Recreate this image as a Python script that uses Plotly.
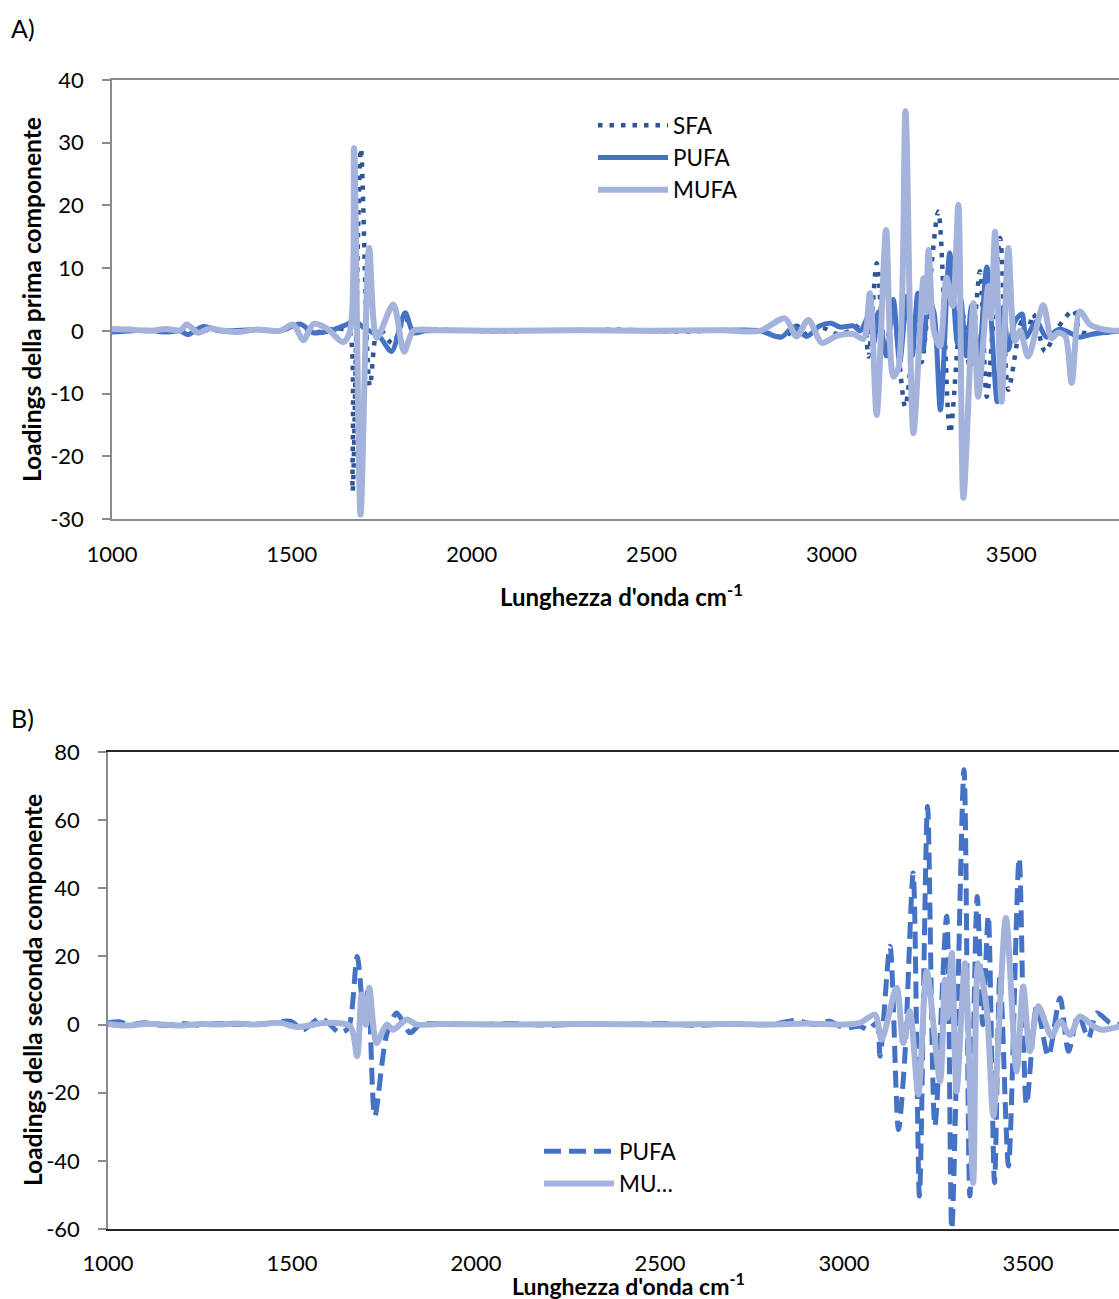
import plotly.graph_objects as go

# ---------------- Panel A data (first component loadings) ----------------
a_sfa_x = [1000, 1100, 1200, 1300, 1400, 1467, 1520, 1560, 1600, 1645, 1660, 1669, 1692, 1717, 1740,
           1780, 1815, 1840, 1900, 2000, 2100, 2200, 2300, 2400, 2500, 2600, 2700, 2801,
           2871, 2903, 2936, 2973, 3015, 3061, 3089, 3103, 3126, 3149, 3172, 3205, 3237, 3251,
           3297, 3330, 3362, 3385, 3413, 3432, 3469, 3492, 3529, 3543, 3561, 3594, 3626, 3673,
           3691, 3720, 3800]
a_sfa_y = [0.2, 0.0, 0.3, 0.0, 0.1, 0.0, 0.8, -0.3, 0.2, 0.3, 0.0, -25.6, 29.1, -8.8, 0.5,
           -2.0, 2.0, 0.0, 0.2, 0.0, -0.1, 0.1, 0.0, 0.2, 0.0, -0.1, 0.1, 0.0,
           -1.0, 0.8, -0.8, 0.5, -0.5, 0.2, 1.5, -4.1, 10.8, -3.0, 3.0, -12.1, 3.0, -5.0,
           19.0, -16.3, 3.5, -6.0, 9.5, -10.5, 14.8, -9.4, 1.5, -1.0, 2.7, -3.3, 0.2, 3.3,
           0.0, -0.5, 0.0]

a_pufa_x = [1000, 1100, 1150, 1190, 1210, 1254, 1300, 1400, 1467, 1523, 1560, 1606, 1652, 1675,
            1700, 1745, 1777, 1815, 1838, 1870, 1950, 2100, 2300, 2500, 2700, 2801,
            2860, 2895, 2931, 2968, 3000, 3024, 3061, 3080, 3105, 3118, 3130, 3153, 3172, 3190,
            3210, 3225, 3240, 3255, 3270, 3285, 3303, 3329, 3350, 3360, 3375, 3390, 3410,
            3432, 3461, 3478, 3492, 3510, 3530, 3541, 3570, 3598, 3635, 3690, 3727, 3800]
a_pufa_y = [-0.2, 0.1, -0.2, 0.0, -0.6, 0.7, 0.0, 0.2, 0.0, 1.1, -0.3, 0.0, 1.0, 1.6,
            0.5, -1.0, -3.3, 2.9, -0.3, 0.0, 0.1, 0.0, 0.1, 0.0, 0.1, 0.0,
            -1.0, 0.6, -0.9, 0.8, 1.2, 0.6, 0.8, 0.0, 2.5, -2.0, 3.0, -4.0, 5.0, -5.0,
            5.5, -4.0, 6.0, -3.0, 5.0, 3.0, -12.6, 12.4, -2.0, 5.0, -4.0, 4.0, -4.0,
            10.2, -11.3, 3.8, -3.0, 1.5, 2.7, -1.0, 1.5, -1.0, 0.3, -1.0, -0.5, 0.0]

a_mufa_x = [1000, 1050, 1100, 1150, 1190, 1208, 1240, 1272, 1300, 1350, 1400, 1467, 1504, 1532,
            1560, 1597, 1643, 1662, 1673, 1691, 1715, 1736, 1782, 1812, 1838, 1900, 2100,
            2300, 2500, 2700, 2801, 2871, 2903, 2936, 2973, 3015, 3061, 3089, 3107, 3126,
            3152, 3172, 3186, 3206, 3228, 3256, 3263, 3270, 3285, 3302, 3320, 3337, 3353,
            3367, 3395, 3408, 3436, 3444, 3455, 3473, 3492, 3510, 3525, 3547, 3589, 3612,
            3630, 3650, 3668, 3691, 3719, 3760, 3800]
a_mufa_y = [0.3, 0.2, 0.0, 0.3, 0.1, 1.0, -0.3, 0.4, 0.1, -0.2, 0.2, 0.0, 1.0, -1.5,
            1.1, 0.4, -1.8, 0.0, 29.1, -29.3, 13.2, -1.1, 4.2, -3.3, 0.0, 0.1, 0.0,
            0.1, 0.0, 0.1, 0.0, 2.0, -0.9, 1.75, -1.9, -0.8, -0.5, -1.3, 6.0, -13.4,
            16.1, -7.3, -6.0, 35.0, -16.3, 8.4, 3.0, 12.9, 0.0, -2.5, 8.5, 4.0, 20.1,
            -26.6, 4.4, -10.5, 7.1, 2.0, 15.8, -11.3, 13.2, -1.6, 0.0, -4.1, 4.1, -1.2,
            -0.3, -0.8, -8.3, 3.1, 1.0, 0.2, 0.0]

# ---------------- Panel B data (second component loadings) ----------------
b_pufa_x = [1000, 1030, 1060, 1100, 1150, 1200, 1250, 1300, 1350, 1400, 1413, 1495, 1531, 1576,
            1603, 1630, 1653, 1677, 1696, 1707, 1725, 1757, 1784, 1798, 1821, 1848, 1900,
            2000, 2100, 2200, 2300, 2400, 2500, 2600, 2700, 2800, 2870, 2920, 2960, 3000,
            3043, 3066, 3089, 3098, 3125, 3148, 3165, 3188, 3205, 3227, 3247, 3279, 3293,
            3326, 3342, 3362, 3377, 3392, 3409, 3424, 3447, 3476, 3496, 3524, 3555, 3587,
            3610, 3637, 3664, 3687, 3723, 3750]
b_pufa_y = [0.5, 0.8, 0.0, 0.5, -0.3, 0.3, -0.2, 0.3, 0.0, 0.5, 0.0, 1.0, -1.5, 2.0,
            0.0, -2.4, -1.0, 20.0, 2.0, 10.8, -26.9, -3.0, 3.4, 1.5, -2.4, 0.0, 0.3,
            0.0, 0.3, -0.2, 0.2, 0.0, 0.3, -0.2, 0.2, 0.0, 1.2, 0.0, 1.0, -1.0,
            -0.5, -1.5, 0.5, -9.3, 23.0, -30.8, -10.0, 44.5, -50.3, 64.0, -29.8, 31.8, -60.0,
            74.8, -50.3, 37.6, 0.0, 32.0, -46.4, 15.0, -41.5, 48.9, -23.5, 5.4, -9.3, 7.8,
            -7.8, 3.0, -4.0, 3.4, 0.5, 0.0]

b_mufa_x = [1000, 1050, 1100, 1150, 1200, 1250, 1300, 1350, 1400, 1467, 1513, 1594, 1658, 1677,
            1689, 1701, 1710, 1730, 1757, 1775, 1812, 1839, 1900, 2100, 2300, 2500, 2700,
            2800, 2900, 3000, 3043, 3084, 3102, 3143, 3161, 3179, 3202, 3225, 3261, 3274,
            3281, 3293, 3306, 3329, 3351, 3365, 3388, 3406, 3440, 3469, 3487, 3505, 3528,
            3564, 3587, 3614, 3641, 3678, 3700, 3750]
b_mufa_y = [0.2, -0.3, 0.2, 0.0, -0.3, 0.2, 0.0, 0.3, 0.0, 0.5, -0.7, 0.5, -0.5, -9.3,
            8.8, 0.0, 10.8, -5.4, 0.0, -1.5, 1.5, 0.0, 0.2, 0.0, 0.2, 0.0, 0.2,
            0.0, 0.3, 0.0, 0.5, 2.9, -4.4, 10.8, -5.4, 3.9, -20.5, 15.6, -16.6, 13.2,
            2.0, 21.0, -19.6, 18.0, -46.4, 18.0, 4.4, -26.9, 31.3, -13.7, 11.2, -7.8, 5.4,
            -3.4, 1.0, -3.0, 2.4, -0.5, -1.5, -0.5]

x_ticks = [1000, 1500, 2000, 2500, 3000, 3500]
a_y_ticks = [-30, -20, -10, 0, 10, 20, 30, 40]
b_y_ticks = [-60, -40, -20, 0, 20, 40, 60, 80]

# ---------------- Styling ----------------
W, H = 1119, 1299
FONT = "Lato"
C_SFA = "#2F5597"
C_PUFA = "#4472C4"
C_MUFA = "#A4B3DB"
GRAY = "#8C8C8C"

def px_x(p):
    return p / W

def px_y(p):
    return 1 - p / H

a_dom_x = [px_x(112), 1.0]
a_dom_y = [px_y(519), px_y(80)]
b_dom_x = [px_x(108), 1.0]
b_dom_y = [px_y(1229), px_y(752)]
a_xr = [1000, 1000 + (W - 112) / 0.3597]
b_xr = [1000, 1000 + (W - 108) / 0.368]
a_yr = [-30, 40]
b_yr = [-60, 80]

def zero_pos(dom, rng):
    return dom[0] + (0 - rng[0]) / (rng[1] - rng[0]) * (dom[1] - dom[0])

def labels(vals):
    return [str(v) for v in vals]

fig = go.Figure()

fig.add_trace(go.Scatter(x=a_sfa_x, y=a_sfa_y, name="SFA", mode="lines",
                         line=dict(color=C_SFA, width=4.5, dash="4.5px,7px", shape="spline", smoothing=0.8),
                         xaxis="x", yaxis="y", legend="legend"))
fig.add_trace(go.Scatter(x=a_pufa_x, y=a_pufa_y, name="PUFA", mode="lines",
                         line=dict(color=C_PUFA, width=5, shape="spline", smoothing=0.8),
                         xaxis="x", yaxis="y", legend="legend"))
fig.add_trace(go.Scatter(x=a_mufa_x, y=a_mufa_y, name="MUFA", mode="lines",
                         line=dict(color=C_MUFA, width=6, shape="spline", smoothing=0.8),
                         xaxis="x", yaxis="y", legend="legend"))

fig.add_trace(go.Scatter(x=b_pufa_x, y=b_pufa_y, name="PUFA", mode="lines",
                         line=dict(color=C_PUFA, width=5, dash="17px,8px", shape="spline", smoothing=0.8),
                         xaxis="x2", yaxis="y2", legend="legend2"))
fig.add_trace(go.Scatter(x=b_mufa_x, y=b_mufa_y, name="MU…", mode="lines",
                         line=dict(color=C_MUFA, width=6, shape="spline", smoothing=0.8),
                         xaxis="x2", yaxis="y2", legend="legend2"))

tickfont = dict(family=FONT, size=22, color="#000")

fig.update_layout(
    width=W, height=H,
    margin=dict(l=0, r=0, t=0, b=0, autoexpand=False),
    paper_bgcolor="white", plot_bgcolor="white",
    font=dict(family=FONT, size=20, color="#000"),
    xaxis=dict(domain=a_dom_x, range=a_xr, anchor="y", tickvals=x_ticks, ticktext=labels(x_ticks),
               tickfont=tickfont, automargin=False,
               showgrid=False, zeroline=False, showline=True, mirror=True, linecolor=GRAY,
               linewidth=1.5, ticks="", ticklabelstandoff=15),
    yaxis=dict(domain=a_dom_y, range=a_yr, anchor="x", tickvals=a_y_ticks, ticktext=labels(a_y_ticks),
               tickfont=tickfont, automargin=False,
               showgrid=False, zeroline=False, showline=True, linecolor=GRAY, linewidth=1.5,
               ticks="outside", ticklen=8, tickcolor=GRAY, tickwidth=1.5, ticklabelstandoff=14),
    xaxis3=dict(overlaying="x", matches="x", anchor="free", automargin=False,
                position=zero_pos(a_dom_y, a_yr), side="bottom", tickvals=x_ticks,
                showticklabels=False, showgrid=False, zeroline=False, showline=True,
                linecolor=GRAY, linewidth=1.5, ticks="outside", ticklen=5, tickcolor=GRAY,
                tickwidth=1.5, layer="below traces"),
    xaxis2=dict(domain=b_dom_x, range=b_xr, anchor="y2", tickvals=x_ticks, ticktext=labels(x_ticks),
                tickfont=tickfont, automargin=False,
                showgrid=False, zeroline=False, showline=True, mirror=True, linecolor="#262626",
                linewidth=1.5, ticks="", ticklabelstandoff=14),
    yaxis2=dict(domain=b_dom_y, range=b_yr, anchor="x2", tickvals=b_y_ticks, ticktext=labels(b_y_ticks),
                tickfont=tickfont, automargin=False,
                showgrid=False, zeroline=False, showline=True, linecolor=GRAY, linewidth=1.5,
                ticks="outside", ticklen=8, tickcolor=GRAY, tickwidth=1.5, ticklabelstandoff=14),
    xaxis4=dict(overlaying="x2", matches="x2", anchor="free", automargin=False,
                position=zero_pos(b_dom_y, b_yr), side="bottom", tickvals=x_ticks,
                showticklabels=False, showgrid=False, zeroline=False, showline=True,
                linecolor=GRAY, linewidth=1.5, ticks="outside", ticklen=5, tickcolor=GRAY,
                tickwidth=1.5, layer="below traces"),
    legend=dict(x=px_x(593), y=px_y(104), xanchor="left", yanchor="top",
                bgcolor="rgba(0,0,0,0)", font=dict(family=FONT, size=22.5, color="#000"),
                itemwidth=70, traceorder="normal"),
    legend2=dict(x=px_x(539), y=px_y(1130), xanchor="left", yanchor="top",
                 bgcolor="rgba(0,0,0,0)", font=dict(family=FONT, size=22.5, color="#000"),
                 itemwidth=70, traceorder="normal"),
    showlegend=True,
)

fig.add_annotation(text="A)", x=px_x(9), y=px_y(28), xref="paper", yref="paper",
                   xanchor="left", yanchor="middle", showarrow=False,
                   font=dict(family=FONT, size=25, color="#000"))
fig.add_annotation(text="B)", x=px_x(9), y=px_y(718), xref="paper", yref="paper",
                   xanchor="left", yanchor="middle", showarrow=False,
                   font=dict(family=FONT, size=25, color="#000"))

fig.add_annotation(text="<b>Lunghezza d'onda cm<sup>-1</sup></b>", x=px_x(621), y=px_y(595),
                   xref="paper", yref="paper", xanchor="center", yanchor="middle",
                   showarrow=False, font=dict(family=FONT, size=24, color="#000"))
fig.add_annotation(text="<b>Lunghezza d'onda cm<sup>-1</sup></b>", x=px_x(628), y=px_y(1284),
                   xref="paper", yref="paper", xanchor="center", yanchor="middle",
                   showarrow=False, font=dict(family=FONT, size=23, color="#000"))
fig.add_annotation(text="<b>Loadings della prima componente</b>", x=px_x(32), y=px_y(300),
                   xref="paper", yref="paper", xanchor="center", yanchor="middle",
                   textangle=-90, showarrow=False, font=dict(family=FONT, size=24.5, color="#000"))
fig.add_annotation(text="<b>Loadings della seconda componente</b>", x=px_x(32), y=px_y(990),
                   xref="paper", yref="paper", xanchor="center", yanchor="middle",
                   textangle=-90, showarrow=False, font=dict(family=FONT, size=24.5, color="#000"))

fig.write_html("out.html")
